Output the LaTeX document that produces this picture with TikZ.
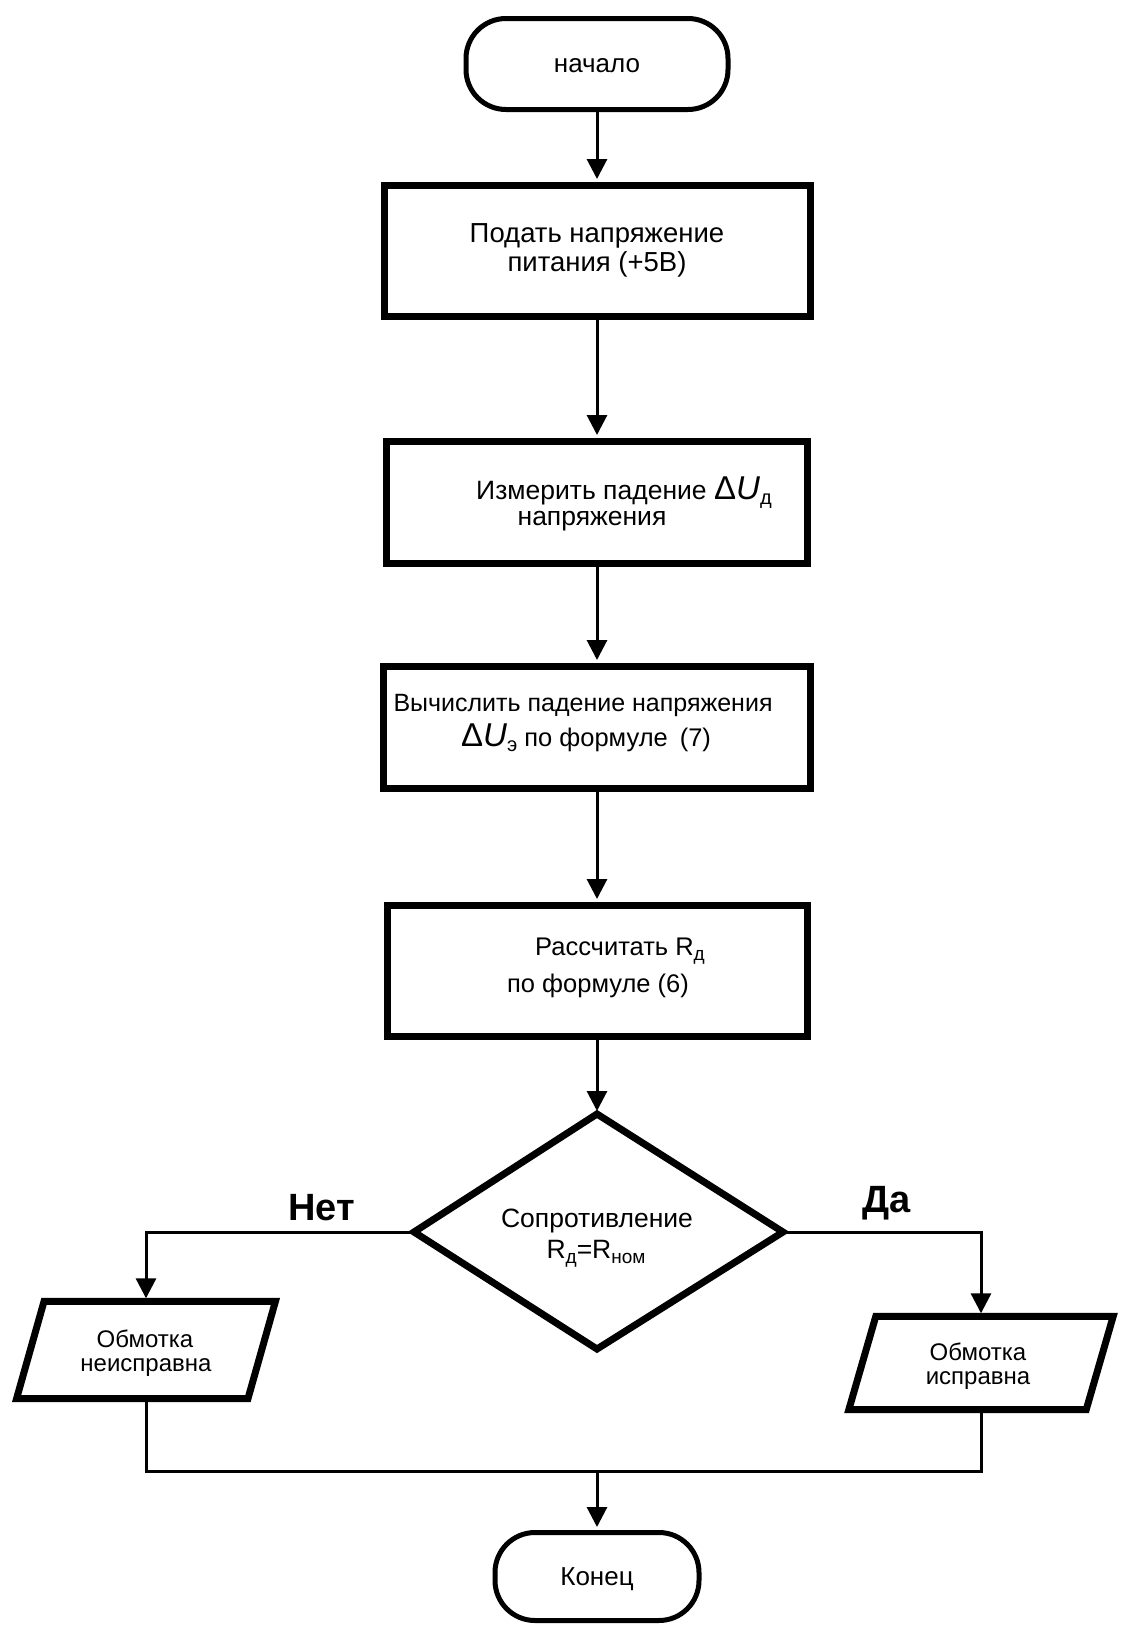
\documentclass[tikz,border=0pt]{standalone}
\usepackage{fontspec}
\setmainfont{Liberation Sans}
\usetikzlibrary{arrows.meta}
\newcommand{\sbs}[2][19]{\raisebox{-5pt}{\fontsize{#1}{#1}\selectfont #2}}
\begin{document}
\begin{tikzpicture}[x=1pt,y=-1pt,
  box/.style={draw, line width=7pt, inner sep=0pt},
  term/.style={draw, line width=5pt, rounded corners=40pt, inner sep=0pt},
  txt/.style={inner sep=0pt, anchor=base, font=\fontsize{25.5}{30}\selectfont},
  ptxt/.style={inner sep=0pt, anchor=base, font=\fontsize{24}{27}\selectfont},
  lbl/.style={inner sep=0pt, anchor=base west, font=\fontsize{38}{40}\selectfont\bfseries},
  conn/.style={line width=3pt},
  arr/.style={conn, -{Triangle[width=20pt,length=20pt]}, shorten >=3pt}]
\useasboundingbox (0,0) rectangle (1128,1647);

% terminators
\node[term, minimum width=262pt, minimum height=91pt] (start) at (597,64) {};
\node[txt, font=\fontsize{26}{30}\selectfont] (tstart) at (597,72) {начало};

% process boxes
\node[box, minimum width=426pt, minimum height=131pt] (b1) at (597,251) {};
\node[txt, font=\fontsize{27.5}{30}\selectfont] (t1a) at (597,242) {Подать напряжение};
\node[txt, font=\fontsize{27.5}{30}\selectfont] (t1b) at (597,271) {питания (+5В)};

\node[box, minimum width=421pt, minimum height=122pt] (b2) at (597,502.5) {};
\node[txt, font=\fontsize{26.5}{30}\selectfont] (t2a) at (624,499) {Измерить падение {\fontsize{33}{33}\selectfont Δ\textit{U}}\sbs[20]{д}};
\node[txt, font=\fontsize{26.5}{30}\selectfont] (t2b) at (592,525) {напряжения};

\node[box, minimum width=427pt, minimum height=122pt] (b3) at (597,727.5) {};
\node[txt, font=\fontsize{25}{30}\selectfont] (t3a) at (583,711) {Вычислить падение напряжения};
\node[txt] (t3b) at (586,746) {{\fontsize{33}{33}\selectfont Δ\textit{U}}\sbs[20]{э} по формуле\hspace{12pt}(7)};

\node[box, minimum width=420pt, minimum height=131pt] (b4) at (597,971) {};
\node[txt] (t4a) at (620,955) {Рассчитать R\sbs{д}};
\node[txt] (t4b) at (598,992) {по формуле (6)};

% decision
\coordinate (dt) at (597,1114);
\coordinate (dl) at (414,1232);
\coordinate (dr) at (783,1232);
\coordinate (db) at (597,1349);
\draw[line width=7pt, line join=miter] (dt) -- (dr) -- (db) -- (dl) -- cycle;
\node[txt, font=\fontsize{26.5}{30}\selectfont] (tda) at (597,1227) {Сопротивление};
\node[txt, font=\fontsize{26.5}{30}\selectfont] (tdb) at (596,1258) {R\sbs{д}=R\sbs{ном}};

% outputs (parallelograms)
\node[inner sep=0pt, minimum width=231pt, minimum height=97pt] (lp) at (146,1350) {};
\draw[line width=7pt, line join=miter]
  ([xshift=13.75pt]lp.north west) -- ([xshift=13.75pt]lp.north east) --
  ([xshift=-13.75pt]lp.south east) -- ([xshift=-13.75pt]lp.south west) -- cycle;
\node[ptxt] (tla) at (145,1347) {Обмотка};
\node[ptxt] (tlb) at (146,1371) {неисправна};

\node[inner sep=0pt, minimum width=237pt, minimum height=93pt] (rp) at (981,1363) {};
\draw[line width=7pt, line join=miter]
  ([xshift=13.5pt]rp.north west) -- ([xshift=13.5pt]rp.north east) --
  ([xshift=-13.5pt]rp.south east) -- ([xshift=-13.5pt]rp.south west) -- cycle;
\node[ptxt] (tra) at (978,1360) {Обмотка};
\node[ptxt] (trb) at (978,1384) {исправна};

\node[term, minimum width=204pt, minimum height=88pt] (end) at (597,1576.5) {};
\node[txt, font=\fontsize{26}{30}\selectfont] (tend) at (597,1585) {Конец};

% labels
\node[lbl] (no) at (288,1220) {Нет};
\node[lbl] (yes) at (862,1212) {Да};

% connectors
\draw[arr] (start.south) -- (b1.north);
\draw[arr] (b1.south) -- (b2.north);
\draw[arr] (b2.south) -- (b3.north);
\draw[arr] (b3.south) -- (b4.north);
\draw[arr] (b4.south) -- (dt);
\draw[arr] (dl) -- (dl -| lp.north) -- (lp.north);
\draw[arr] (dr) -- (dr -| rp.north) -- (rp.north);
\coordinate (m) at (597,1471);
\draw[conn] (lp.south) -- (lp.south |- m) -- (rp.south |- m) -- (rp.south);
\draw[arr] (m) -- (end.north);
\end{tikzpicture}
\end{document}
